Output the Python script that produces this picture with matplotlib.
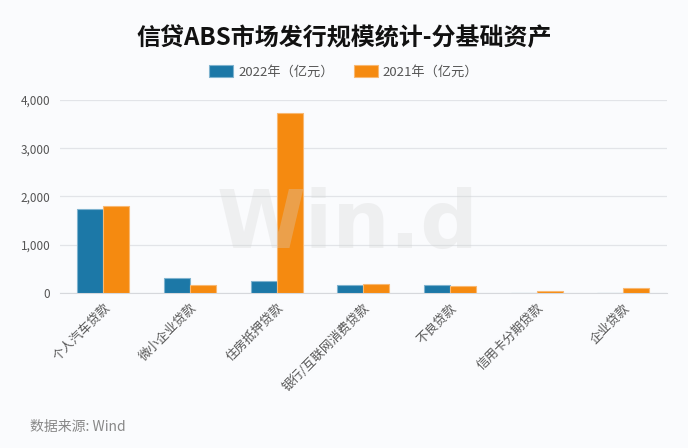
import matplotlib.pyplot as plt
import numpy as np
from matplotlib.ticker import FuncFormatter

plt.rcParams["font.family"] = ["Noto Sans CJK SC", "DejaVu Sans"]

categories = ["个人汽车贷款", "微小企业贷款", "住房抵押贷款", "银行/互联网消费贷款",
              "不良贷款", "信用卡分期贷款", "企业贷款"]
values_2022 = [1735, 305, 242, 172, 168, 4, 0]
values_2021 = [1800, 166, 3730, 186, 151, 41, 97]
series_names = ["2022年（亿元）", "2021年（亿元）"]
y_ticks = [0, 1000, 2000, 3000, 4000]

bg = "#fafbfd"
blue = "#1c78a7"
orange = "#f58a10"

fig = plt.figure(figsize=(6.88, 4.48), dpi=100, facecolor=bg)
ax = fig.add_axes([0.0872, 0.346, 0.882, 0.431], facecolor=bg)

x = np.arange(len(categories))
width = 0.3
ax.bar(x - width / 2, values_2022, width, color=blue, edgecolor="#7fb3cf",
       linewidth=0.8, label=series_names[0], zorder=3)
ax.bar(x + width / 2, values_2021, width, color=orange, edgecolor="#f8b872",
       linewidth=0.8, label=series_names[1], zorder=3)

ax.set_xlim(-0.5, len(categories) - 0.5)
ax.set_ylim(0, 4000)
ax.set_yticks(y_ticks)
ax.yaxis.set_major_formatter(FuncFormatter(lambda v, p: f"{v:,.0f}"))
ax.grid(axis="y", color="#e2e4e8", linewidth=0.9, zorder=0)
for side in ["top", "right", "left"]:
    ax.spines[side].set_visible(False)
ax.spines["bottom"].set_color("#d6d8dc")
ax.tick_params(axis="both", length=0, colors="#555555", labelsize=8.5)
ax.tick_params(axis="y", pad=7)
ax.set_xticks(x)
ax.set_xticklabels(categories, rotation=45, ha="right", rotation_mode="anchor",
                   color="#555555", fontsize=9)
ax.tick_params(axis="x", pad=6)

# watermark
fig.text(0.505, 0.495, "Win.d", ha="center", va="center", fontsize=58,
         fontweight="bold", color="#d4d4d4", alpha=0.3, family="DejaVu Sans")

fig.text(0.5, 0.915, "信贷ABS市场发行规模统计-分基础资产", ha="center", va="center",
         fontsize=17.3, fontweight="bold", color="#111111")

handles, labels = ax.get_legend_handles_labels()
fig.legend(handles, labels, loc="center", bbox_to_anchor=(0.5, 0.84), ncol=2,
           frameon=False, fontsize=9.5, labelcolor="#555555", handlelength=1.8,
           handleheight=1.0, columnspacing=1.5, handletextpad=0.4)

fig.text(0.044, 0.047, "数据来源: Wind", ha="left", va="center", fontsize=10,
         color="#888888")

fig.savefig("out.png", dpi=100, facecolor=bg)
